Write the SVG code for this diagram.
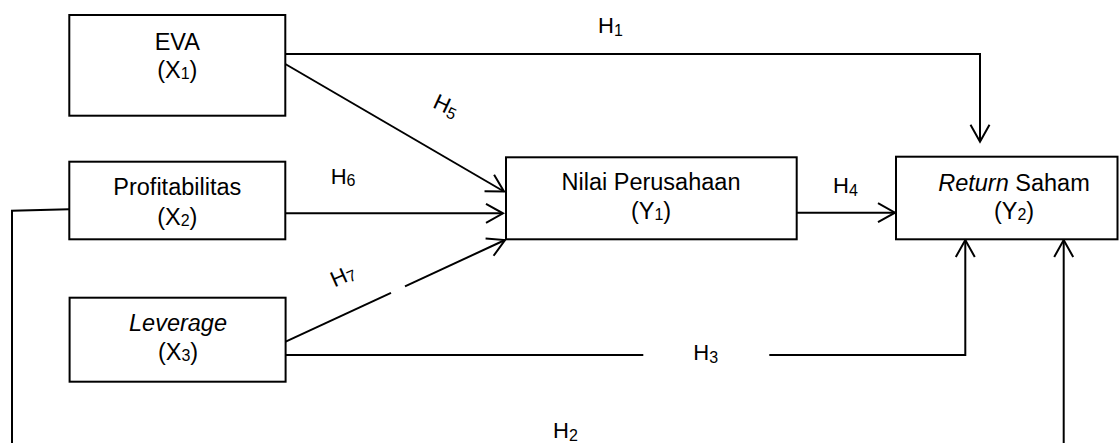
<svg xmlns="http://www.w3.org/2000/svg" width="1119" height="443" viewBox="0 0 1119 443">
<style>
.box{fill:#fff;stroke:#000;stroke-width:2}
.ln{fill:none;stroke:#000;stroke-width:2}
.t{font-family:"Liberation Sans",Arial,sans-serif;font-size:23.5px;fill:#000;text-anchor:middle}
.s{font-size:16px}
.h{font-family:"Liberation Sans",Arial,sans-serif;font-size:22px;fill:#000}
.hs{font-size:16px}
</style>
<defs>
<marker id="ah" markerUnits="userSpaceOnUse" viewBox="-20 -12 24 24" markerWidth="24" markerHeight="24" refX="0" refY="0" orient="auto" overflow="visible">
<path d="M-17,-9.5 L0,0 L-17,9.5" fill="none" stroke="#000" stroke-width="2"/>
</marker>
</defs>
<g id="connectors">
<polyline class="ln" points="285.3,54 980,54 980,141.7" marker-end="url(#ah)"/>
<line class="ln" x1="285.3" y1="64" x2="504" y2="191.5" marker-end="url(#ah)"/>
<line class="ln" x1="285.3" y1="213.3" x2="503" y2="213.3" marker-end="url(#ah)"/>
<line class="ln" x1="285.7" y1="341.7" x2="391" y2="292.9"/>
<line class="ln" x1="405" y1="286.4" x2="505" y2="240" marker-end="url(#ah)"/>
<line class="ln" x1="796" y1="212.7" x2="895" y2="212.7" marker-end="url(#ah)"/>
<line class="ln" x1="285.7" y1="355" x2="643.3" y2="355"/>
<polyline class="ln" points="769.3,355 965.3,355 965.3,240" marker-end="url(#ah)"/>
<polyline class="ln" points="69.3,209.3 12,210.7 12,443"/>
<line class="ln" x1="1063.7" y1="443" x2="1063.7" y2="240" marker-end="url(#ah)"/>
<text class="h" x="598" y="33">H<tspan class="hs" dy="3">1</tspan></text>
<text class="h" transform="translate(446,106) rotate(25)" x="0" y="7" text-anchor="middle">H<tspan class="hs" dy="3">5</tspan></text>
<text class="h" x="330.7" y="184">H<tspan class="hs" dy="2">6</tspan></text>
<text class="h" transform="translate(343,276) rotate(-24)" x="0" y="7" text-anchor="middle">H<tspan class="hs" dy="2">7</tspan></text>
<text class="h" x="833" y="192.7">H<tspan class="hs" dy="3">4</tspan></text>
<text class="h" x="693.3" y="360">H<tspan class="hs" dy="3">3</tspan></text>
<text class="h" x="553" y="437.7">H<tspan class="hs" dy="3">2</tspan></text>
</g>
<g id="eva">
<rect class="box" x="69.3" y="15" width="216" height="100.7"/>
<text class="t" x="177.3" y="49.5">EVA</text>
<text class="t" x="177.3" y="78">(X<tspan class="s" dy="1">1</tspan><tspan dy="-1">)</tspan></text>
</g>
<g id="profitabilitas">
<rect class="box" x="69.3" y="161.7" width="216" height="77.6"/>
<text class="t" x="177.3" y="195">Profitabilitas</text>
<text class="t" x="177.3" y="225">(X<tspan class="s" dy="1">2</tspan><tspan dy="-1">)</tspan></text>
</g>
<g id="leverage">
<rect class="box" x="69.6" y="297.7" width="216" height="84"/>
<text class="t" x="178" y="331" font-style="italic">Leverage</text>
<text class="t" x="178" y="359.5">(X<tspan class="s" dy="1">3</tspan><tspan dy="-1">)</tspan></text>
</g>
<g id="nilai">
<rect class="box" x="506" y="157.3" width="290.7" height="82"/>
<text class="t" x="651" y="190">Nilai Perusahaan</text>
<text class="t" x="651" y="218.5">(Y<tspan class="s" dy="1">1</tspan><tspan dy="-1">)</tspan></text>
</g>
<g id="return">
<rect class="box" x="896" y="156.7" width="221.5" height="82.6"/>
<text class="t" x="1014" y="190.7"><tspan font-style="italic">Return</tspan> Saham</text>
<text class="t" x="1014" y="219.3">(Y<tspan class="s" dy="1">2</tspan><tspan dy="-1">)</tspan></text>
</g>
</svg>
